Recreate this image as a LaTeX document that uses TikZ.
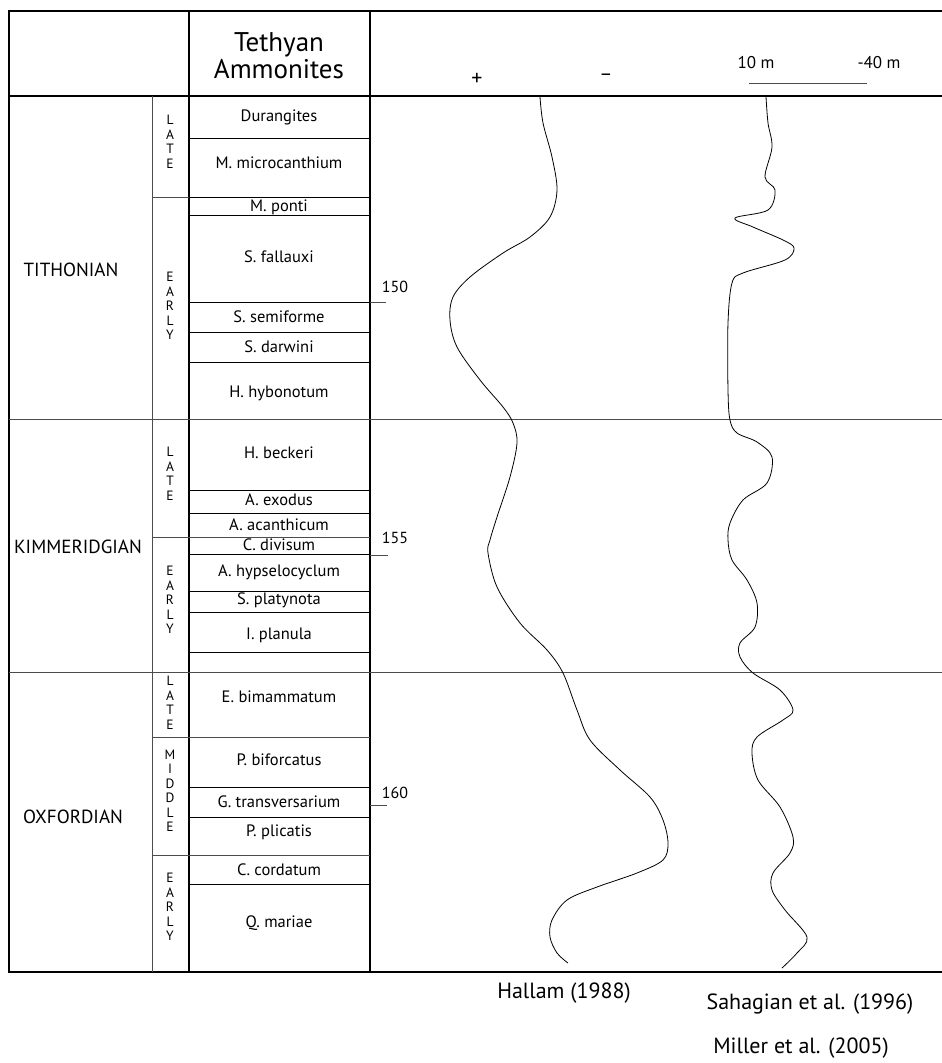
\documentclass[tikz,border=0pt]{standalone}
\usepackage{fontspec}
\setmainfont{PT Sans}
\usetikzlibrary{positioning}

\begin{document}
\begin{tikzpicture}[x=1pt, y=-1pt,
    frame/.style={line width=1.1pt},
    zone/.style={line width=0.9pt},
    sub/.style={line width=0.6pt, black!70},
    curve/.style={line width=0.8pt},
    amm/.style={font=\fontsize{16.5}{18}\selectfont},
    stage/.style={font=\fontsize{19}{21}\selectfont},
    age/.style={font=\fontsize{16}{18}\selectfont},
    letters/.style={font=\fontsize{13.5}{14.5}\selectfont, align=center},
    src/.style={font=\fontsize{22}{24}\selectfont}]
    \useasboundingbox (0,0) rectangle (942,1063);

    % Frame and columns
    \draw[frame] (942,11) -- (9,11) -- (9,972) -- (942,972);
    \draw[frame] (9,96) -- (942,96);
    \draw[frame] (189,11) -- (189,972);
    \draw[frame] (370,11) -- (370,972);
    \draw[sub] (152,96) -- (152,972);

    % Stage boundaries
    \draw[sub] (9,419) -- (942,419);
    \draw[sub] (9,672) -- (942,672);

    % Substage boundaries
    \foreach \y in {197,537,737,855}
        \draw[sub] (152,\y) -- (189,\y);

    % Ammonite zones
    \foreach \y in {138,197,215,302,332,362,490,513,554,591,612,652,787,817,884}
        \draw[zone] (189,\y) -- (370,\y);
    \foreach \y in {537,737,855}
        \draw[sub] (189,\y) -- (370,\y);

    % Age ticks
    \draw[sub] (370,302) -- (386,302);
    \draw[sub] (370,555) -- (388,555);
    \draw[sub] (370,805) -- (387,805);
    \node[age] (a150) at (395,287) {150};
    \node[age] (a155) at (395,538) {155};
    \node[age] (a160) at (395,793) {160};

    % Header
    \node[font=\fontsize{27}{27}\selectfont, align=center] (head) at (279,56) {Tethyan\\Ammonites};
    \node[font=\fontsize{22}{24}\selectfont] (plus) at (477,79) {+};
    \node[font=\fontsize{20}{22}\selectfont] (minus) at (606,77) {\textendash};
    \node[font=\fontsize{17}{19}\selectfont] (ten) at (756,63) {10 m};
    \node[font=\fontsize{17}{19}\selectfont] (forty) at (879,63) {-40 m};
    \draw[sub] (749,83) -- (867,83);

    % Stages
    \node[stage] (tith) at (71,270) {TITHONIAN};
    \node[stage] (kimm) at (78,547) {KIMMERIDGIAN};
    \node[stage] (oxf) at (73,817) {OXFORDIAN};

    % Substages
    \node[letters] (tl) at (170,142) {L\\A\\T\\E};
    \node[letters] (te) at (170,306) {E\\A\\R\\L\\Y};
    \node[letters] (kl) at (170,474) {L\\A\\T\\E};
    \node[letters] (ke) at (170,600) {E\\A\\R\\L\\Y};
    \node[letters] (ol) at (170,703) {L\\A\\T\\E};
    \node[letters] (om) at (170,791) {M\\I\\D\\D\\L\\E};
    \node[letters] (oe) at (170,907) {E\\A\\R\\L\\Y};

    % Zone names
    \foreach \y/\n/\t in {117/dur/Durangites, 163/mic/M. microcanthium,
        207/pon/M. ponti, 257/fal/S. fallauxi, 317/sem/S. semiforme,
        347/dar/S. darwini, 393/hyb/H. hybonotum, 453/bec/H. beckeri,
        500/exo/A. exodus, 525/aca/A. acanthicum, 545/div/C. divisum,
        572/hyp/A. hypselocyclum, 600/pla/S. platynota, 635/pln/I. planula,
        697/bim/E. bimammatum, 760/bif/P. biforcatus,
        802/tra/G. transversarium, 832/pli/P. plicatis,
        870/cor/C. cordatum, 923/mar/Q. mariae}
        \node[amm] (\n) at (279,\y) {\t};

    % Hallam curve
    \draw[curve] plot[smooth, tension=0.55] coordinates {
        (540,97) (543,123) (552,157) (557,190) (550,217) (530,237) (503,253)
        (470,277) (453,297) (450,320) (457,347) (480,380) (503,407) (513,423)
        (517,443) (510,477) (497,517) (490,540) (488,553) (497,587) (520,623)
        (547,650) (563,673) (577,710) (590,740) (620,770) (650,797) (663,820)
        (668,843) (663,860) (637,873) (597,887) (567,900) (552,920) (550,937)
        (557,953) (568,963)};

    % Sahagian / Miller curve
    \draw[curve] plot[smooth, tension=0.55] coordinates {
        (766,97) (768,123) (772,147) (765,177) (775,190) (768,210) (735,218)
        (753,227) (783,240) (794,248) (785,260) (743,273) (732,283) (728,323)
        (728,390) (730,420) (737,433) (757,442) (772,457) (767,483) (743,500)
        (730,523) (728,540) (732,560) (747,580) (757,603) (755,627) (740,643)
        (740,657) (753,673) (780,690) (793,710) (783,720) (757,737) (752,753)
        (758,780) (780,807) (793,837) (790,853) (773,873) (772,890) (785,910)
        (807,937) (797,953) (782,968)};

    % Sources
    \node[src] (hallam) at (564,993) {Hallam (1988)};
    \node[src] (sahag) at (810,1004) {Sahagian et al. (1996)};
    \node[src] (miller) at (801,1048) {Miller et al. (2005)};
\end{tikzpicture}
\end{document}
